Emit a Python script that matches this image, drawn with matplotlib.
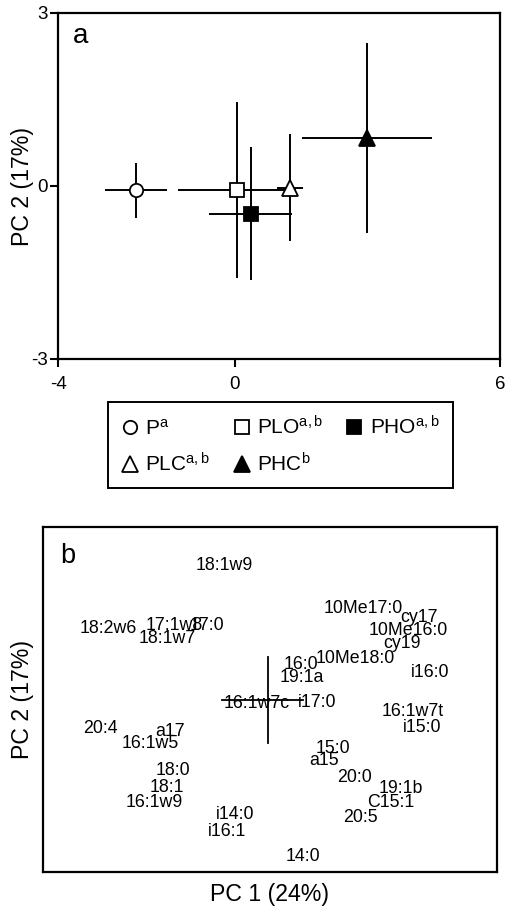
import matplotlib
matplotlib.use("Agg")
import matplotlib.pyplot as plt

plt.rcParams['font.family'] = ['Liberation Sans', 'DejaVu Sans']
plt.rcParams['mathtext.fontset'] = 'custom'
plt.rcParams['mathtext.rm'] = 'Liberation Sans'
plt.rcParams['mathtext.it'] = 'Liberation Sans'
plt.rcParams['axes.unicode_minus'] = False

# panel a: group mean scores (PC1, PC2) with error bars
groups = ['P', 'PLO', 'PHO', 'PLC', 'PHC']
group_labels = [r'P$^{\mathrm{a}}$', r'PLO$^{\mathrm{a,b}}$', r'PHO$^{\mathrm{a,b}}$',
                r'PLC$^{\mathrm{a,b}}$', r'PHC$^{\mathrm{b}}$']
pc1_mean = [-2.24, 0.04, 0.36, 1.25, 2.98]
pc1_err = [0.70, 1.33, 0.94, 0.30, 1.47]
pc2_mean = [-0.08, -0.07, -0.48, -0.03, 0.83]
pc2_err = [0.47, 1.52, 1.16, 0.93, 1.64]
markers = ['o', 's', 's', '^', '^']
fills = ['white', 'white', 'black', 'white', 'black']
msizes = [9.6, 10.2, 10.2, 11.5, 11.5]

# panel b: fatty acid loadings
fa_labels = ['18:1w9', '18:2w6', '17:1w8', '17:0', '18:1w7', '10Me17:0', 'cy17',
             '10Me16:0', 'cy19', '10Me18:0', '16:0', '19:1a', 'i16:0', '16:1w7c',
             'i17:0', '16:1w7t', 'i15:0', '20:4', 'a17', '16:1w5', '15:0', 'a15',
             '18:0', '20:0', '18:1', '19:1b', '16:1w9', 'C15:1', 'i14:0', '20:5',
             'i16:1', '14:0']
fa_pc1 = [-0.199, -0.729, -0.428, -0.279, -0.460, 0.436, 0.690,
          0.642, 0.612, 0.400, 0.149, 0.154, 0.741, -0.052,
          0.223, 0.663, 0.707, -0.767, -0.450, -0.538, 0.296, 0.255,
          -0.435, 0.396, -0.462, 0.609, -0.519, 0.562, -0.152, 0.421,
          -0.189, 0.159]
fa_pc2 = [0.749, 0.384, 0.403, 0.403, 0.327, 0.500, 0.451,
          0.375, 0.298, 0.212, 0.176, 0.102, 0.134, -0.048,
          -0.039, -0.090, -0.186, -0.188, -0.206, -0.278, -0.307, -0.375,
          -0.432, -0.471, -0.529, -0.538, -0.615, -0.615, -0.688, -0.701,
          -0.782, -0.928]
cross_pc1 = [-0.21, 0.16]
cross_pc2 = [-0.25, 0.25]

fig = plt.figure(figsize=(5.11, 9.06), dpi=100)

# ---- panel a ----
ax = fig.add_axes([0.1141, 0.6038, 0.8644, 0.3822])
handles = []
for i in range(len(groups)):
    ax.errorbar(pc1_mean[i], pc2_mean[i], xerr=pc1_err[i], yerr=pc2_err[i],
                fmt='none', ecolor='black', elinewidth=1.4, capsize=0, zorder=2)
    h, = ax.plot(pc1_mean[i], pc2_mean[i], marker=markers[i], ms=msizes[i],
                 mfc=fills[i], mec='black', mew=1.3, ls='none', zorder=3,
                 label=group_labels[i])
    handles.append(h)

ax.set_xlim(-4, 6)
ax.set_ylim(-3, 3)
ax.set_xticks([-4, 0, 6])
ax.set_yticks([-3, 0, 3])
ax.tick_params(direction='out', length=6, width=1.5, labelsize=13.5,
               top=False, right=False)
ax.tick_params(axis='x', pad=6)
ax.tick_params(axis='y', pad=1.5)
for s in ax.spines.values():
    s.set_linewidth(1.6)
ax.set_ylabel('PC 2 (17%)', fontsize=16.7)
ax.yaxis.set_label_coords(-0.056, 0.497)
ax.text(0.034, 0.9116, 'a', transform=ax.transAxes, fontsize=20,
        ha='left', va='baseline')

# legend, filled column by column
order = [0, 3, 1, 4, 2]
leg = fig.legend([handles[i] for i in order], [group_labels[i] for i in order],
                 ncol=3, loc='center', bbox_to_anchor=(0.549, 0.5085),
                 fontsize=15, frameon=True, fancybox=False, framealpha=1,
                 edgecolor='black', handlelength=0.8, handletextpad=0.35,
                 columnspacing=1.1, labelspacing=0.68, borderpad=0.62)
leg.get_frame().set_linewidth(1.4)

# ---- panel b ----
axb = fig.add_axes([0.0832, 0.0375, 0.8894, 0.3812])
for lab, x, y in zip(fa_labels, fa_pc1, fa_pc2):
    axb.text(x, y, lab, ha='center', va='baseline', fontsize=12.8)
axb.plot(cross_pc1, [0, 0], color='black', lw=1.3)
axb.plot([0, 0], cross_pc2, color='black', lw=1.3)
axb.set_xlim(-1.032, 1.048)
axb.set_ylim(-0.991, 0.999)
axb.set_xticks([])
axb.set_yticks([])
for s in axb.spines.values():
    s.set_linewidth(1.6)
axb.set_xlabel('PC 1 (24%)', fontsize=16.7, labelpad=8)
axb.set_ylabel('PC 2 (17%)', fontsize=16.7)
axb.yaxis.set_label_coords(-0.019, 0.5)
axb.text(0.040, 0.895, 'b', transform=axb.transAxes, fontsize=19.5,
         ha='left', va='baseline')

fig.savefig('out.png', dpi=100)
